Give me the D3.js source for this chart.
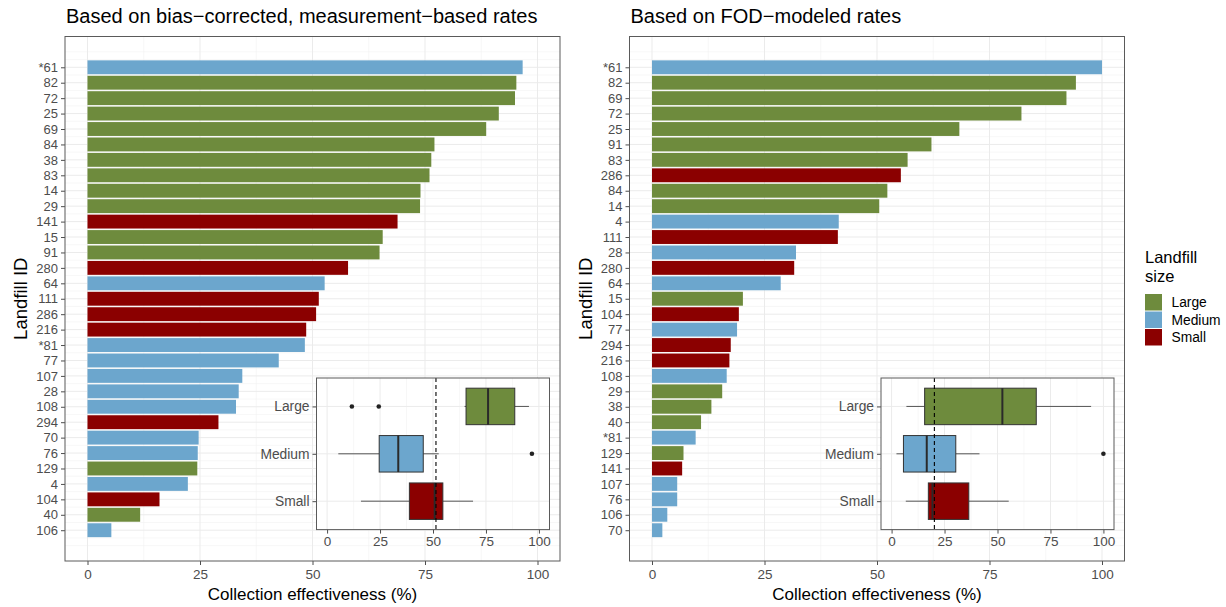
<!DOCTYPE html>
<html>
<head>
<meta charset="utf-8">
<script src="https://cdn.jsdelivr.net/npm/d3@7"></script>
<style>
  html, body { margin: 0; padding: 0; background: #fff; }
  svg { display: block; font-family: "Liberation Sans", Arial, Helvetica, sans-serif; }
</style>
</head>
<body>
<svg id="chart" width="1226" height="607"></svg>
<script>
// Collection effectiveness (%) per landfill, bias-corrected measurement-based rates
const measuredIds = ["*61","82","72","25","69","84","38","83","14","29","141","15","91","280","64","111","286","216","*81","77","107","28","108","294","70","76","129","4","104","40","106"];
const measuredValues = [96.7,95.3,95.0,91.4,88.6,77.1,76.4,76.0,74.0,73.9,68.9,65.6,64.9,57.9,52.7,51.4,50.8,48.6,48.3,42.5,34.4,33.6,33.0,29.1,24.7,24.5,24.4,22.3,16.0,11.7,5.3];
const measuredSizes = ["Medium","Large","Large","Large","Large","Large","Large","Large","Large","Large","Small","Large","Large","Small","Medium","Small","Small","Small","Medium","Medium","Medium","Medium","Medium","Small","Medium","Medium","Large","Medium","Small","Large","Medium"];

// Collection effectiveness (%) per landfill, FOD-modeled rates
const fodIds = ["*61","82","69","72","25","91","83","286","84","14","4","111","28","280","64","15","104","77","294","216","108","29","38","40","*81","129","141","107","76","106","70"];
const fodValues = [100,94.2,92.1,82.1,68.3,62.1,56.8,55.3,52.3,50.5,41.5,41.3,32.0,31.6,28.6,20.2,19.3,18.9,17.5,17.2,16.6,15.6,13.2,10.9,9.7,7.0,6.7,5.6,5.6,3.4,2.3];
const fodSizes = ["Medium","Large","Large","Large","Large","Large","Large","Small","Large","Large","Medium","Small","Medium","Small","Medium","Large","Small","Medium","Small","Small","Medium","Large","Large","Large","Medium","Large","Small","Medium","Medium","Medium","Medium"];

const sizeLevels = ["Large","Medium","Small"];
const sizeColors = ["#6E8B3D","#6CA6CD","#8B0000"];
const xTicks = [0,25,50,75,100];
const panelTitles = ["Based on bias\u2212corrected, measurement\u2212based rates","Based on FOD\u2212modeled rates"];

const svg = d3.select("#chart");
const color = d3.scaleOrdinal().domain(sizeLevels).range(sizeColors);
const TICK_COL = "#4d4d4d";

function styleAxis(a, size) {
  a.select(".domain").remove();
  a.selectAll(".tick line").attr("stroke", "#4d4d4d");
  a.selectAll(".tick text").attr("fill", TICK_COL).attr("font-size", size).attr("font-family", null);
}

function drawPanel(opts) {
  const { ids, values, sizes, x0, x1, title } = opts;
  const top = 36.5, bottom = 561;
  const n = ids.length;
  const rows = ids.map((id, i) => ({ id, value: values[i], size: sizes[i], pos: i + 1 }));

  const x = d3.scaleLinear().domain([-5, 105]).range([x0, x1]);
  // continuous row positions, 5% expansion around bars of height 0.9
  const lo = 1 - 0.45, hi = n + 0.45, ex = (hi - lo) * 0.05;
  const y = d3.scaleLinear().domain([lo - ex, hi + ex]).range([top, bottom]);

  const g = svg.append("g");
  g.append("rect").attr("x", x0).attr("y", top).attr("width", x1 - x0).attr("height", bottom - top).attr("fill", "#fff");

  // grid
  const grid = g.append("g");
  const minorY = d3.range(0, n + 1.01, 0.5).filter(v => !(Number.isInteger(v) && v >= 1 && v <= n));
  grid.selectAll(".ymin").data(minorY).join("line")
    .attr("x1", x0).attr("x2", x1).attr("y1", d => y(d)).attr("y2", d => y(d))
    .attr("stroke", "#f2f2f2").attr("stroke-width", 0.6);
  grid.selectAll(".xmin").data([12.5, 37.5, 62.5, 87.5]).join("line")
    .attr("y1", top).attr("y2", bottom).attr("x1", d => x(d)).attr("x2", d => x(d))
    .attr("stroke", "#f2f2f2").attr("stroke-width", 0.6);
  grid.selectAll(".ymaj").data(d3.range(1, n + 1)).join("line")
    .attr("x1", x0).attr("x2", x1).attr("y1", d => y(d)).attr("y2", d => y(d))
    .attr("stroke", "#ebebeb").attr("stroke-width", 1);
  grid.selectAll(".xmaj").data(xTicks).join("line")
    .attr("y1", top).attr("y2", bottom).attr("x1", d => x(d)).attr("x2", d => x(d))
    .attr("stroke", "#ebebeb").attr("stroke-width", 1);

  // bars
  const bh = y(0.9) - y(0);
  g.append("g").selectAll("rect").data(rows).join("rect")
    .attr("x", x(0)).attr("width", d => x(d.value) - x(0))
    .attr("y", d => y(d.pos) - bh / 2).attr("height", bh)
    .attr("fill", d => color(d.size));

  // axes
  const xAxis = d3.axisBottom(x).tickValues(xTicks).tickSize(4).tickPadding(4);
  styleAxis(g.append("g").attr("transform", `translate(0,${bottom})`).call(xAxis), 13.5);
  const yAxis = d3.axisLeft(y).tickValues(d3.range(1, n + 1)).tickFormat(d => ids[d - 1]).tickSize(4).tickPadding(3);
  styleAxis(g.append("g").attr("transform", `translate(${x0},0)`).call(yAxis), 13);

  g.append("rect").attr("x", x0).attr("y", top).attr("width", x1 - x0).attr("height", bottom - top)
    .attr("fill", "none").attr("stroke", "#5a5a5a").attr("stroke-width", 1);

  // titles
  g.append("text").attr("x", x0 + 1).attr("y", 23).attr("font-size", 20).attr("fill", "#000").text(title);
  g.append("text").attr("x", (x0 + x1) / 2).attr("y", 600).attr("text-anchor", "middle")
    .attr("font-size", 17).attr("fill", "#000").text("Collection effectiveness (%)");
  g.append("text").attr("transform", `translate(${x0 - 38},${(top + bottom) / 2}) rotate(-90)`)
    .attr("text-anchor", "middle").attr("font-size", 18.5).attr("fill", "#000").text("Landfill ID");

  drawInset(g, rows, x0 + 251.5, x0 + 484.5);
}

function drawInset(g, rows, ix0, ix1) {
  const top = 378, bottom = 529.6;
  const x = d3.scaleLinear().domain([-5, 105]).range([ix0, ix1]);
  // discrete positions with 0.6 category expansion on each side
  const step = (bottom - top) / (sizeLevels.length - 1 + 1.2);
  const cy = lvl => top + (0.6 + sizeLevels.indexOf(lvl)) * step;

  const ig = g.append("g");
  ig.append("rect").attr("x", ix0).attr("y", top).attr("width", ix1 - ix0).attr("height", bottom - top).attr("fill", "#fff");
  ig.selectAll(".xmin").data([12.5, 37.5, 62.5, 87.5]).join("line")
    .attr("y1", top).attr("y2", bottom).attr("x1", d => x(d)).attr("x2", d => x(d))
    .attr("stroke", "#f2f2f2").attr("stroke-width", 0.6);
  ig.selectAll(".xmaj").data(xTicks).join("line")
    .attr("y1", top).attr("y2", bottom).attr("x1", d => x(d)).attr("x2", d => x(d))
    .attr("stroke", "#ebebeb").attr("stroke-width", 1);
  ig.selectAll(".ymaj").data(sizeLevels).join("line")
    .attr("x1", ix0).attr("x2", ix1).attr("y1", d => cy(d)).attr("y2", d => cy(d))
    .attr("stroke", "#ebebeb").attr("stroke-width", 1);

  // overall median reference line
  const allMedian = d3.median(rows, d => d.value);

  const boxH = 0.77 * step;
  sizeLevels.forEach(lvl => {
    const vals = rows.filter(r => r.size === lvl).map(r => r.value).sort(d3.ascending);
    const q1 = d3.quantileSorted(vals, 0.25), med = d3.quantileSorted(vals, 0.5), q3 = d3.quantileSorted(vals, 0.75);
    const iqr = q3 - q1;
    const inside = vals.filter(v => v >= q1 - 1.5 * iqr && v <= q3 + 1.5 * iqr);
    const wLo = d3.min(inside), wHi = d3.max(inside);
    const outl = vals.filter(v => v < q1 - 1.5 * iqr || v > q3 + 1.5 * iqr);
    const c = cy(lvl);
    ig.append("line").attr("x1", x(wLo)).attr("x2", x(q1)).attr("y1", c).attr("y2", c).attr("stroke", "#555").attr("stroke-width", 1);
    ig.append("line").attr("x1", x(q3)).attr("x2", x(wHi)).attr("y1", c).attr("y2", c).attr("stroke", "#555").attr("stroke-width", 1);
    ig.append("rect").attr("x", x(q1)).attr("y", c - boxH / 2).attr("width", x(q3) - x(q1)).attr("height", boxH)
      .attr("fill", color(lvl)).attr("stroke", "#333").attr("stroke-width", 1);
    ig.append("line").attr("x1", x(med)).attr("x2", x(med)).attr("y1", c - boxH / 2).attr("y2", c + boxH / 2)
      .attr("stroke", "#2a2a2a").attr("stroke-width", 2);
    ig.selectAll(null).data(outl).join("circle")
      .attr("cx", d => x(d)).attr("cy", c).attr("r", 2.3).attr("fill", "#222");
  });

  ig.append("line").attr("x1", x(allMedian)).attr("x2", x(allMedian)).attr("y1", top).attr("y2", bottom)
    .attr("stroke", "#000").attr("stroke-width", 1.1).attr("stroke-dasharray", "4,3");

  const xAxis = d3.axisBottom(x).tickValues(xTicks).tickSize(4).tickPadding(3);
  styleAxis(ig.append("g").attr("transform", `translate(0,${bottom})`).call(xAxis), 13.5);
  const yAxis = d3.axisLeft(d3.scalePoint().domain(sizeLevels).range([cy("Large"), cy("Small")])).tickSize(4).tickPadding(3);
  styleAxis(ig.append("g").attr("transform", `translate(${ix0},0)`).call(yAxis), 13.8);

  ig.append("rect").attr("x", ix0).attr("y", top).attr("width", ix1 - ix0).attr("height", bottom - top)
    .attr("fill", "none").attr("stroke", "#5a5a5a").attr("stroke-width", 1);
}

drawPanel({ ids: measuredIds, values: measuredValues, sizes: measuredSizes, x0: 65, x1: 560, title: panelTitles[0] });
drawPanel({ ids: fodIds, values: fodValues, sizes: fodSizes, x0: 629.5, x1: 1124.5, title: panelTitles[1] });

// legend
const lg = svg.append("g").attr("transform", "translate(1145,0)");
lg.append("text").attr("x", 0).attr("y", 263).attr("font-size", 16.5).attr("fill", "#000").text("Landfill");
lg.append("text").attr("x", 0).attr("y", 281.5).attr("font-size", 16.5).attr("fill", "#000").text("size");
lg.selectAll(".key").data(sizeLevels).join("rect")
  .attr("x", 0).attr("y", (d, i) => 294 + i * 17.5).attr("width", 17).attr("height", 16.5)
  .attr("fill", d => color(d));
lg.selectAll(".lab").data(sizeLevels).join("text")
  .attr("x", 26.5).attr("y", (d, i) => 294 + i * 17.5 + 8.3).attr("dy", "0.35em")
  .attr("font-size", 13.8).attr("fill", "#000").text(d => d);
</script>
</body>
</html>
